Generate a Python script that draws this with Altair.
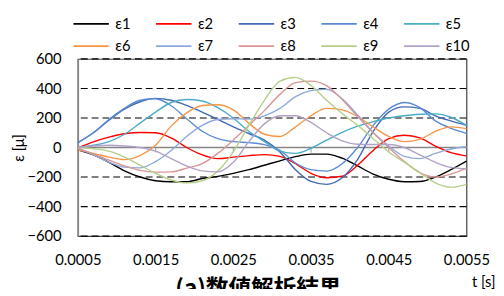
import altair as alt
import pandas as pd

t = [0.0005, 0.0007, 0.0009, 0.0011, 0.0013, 0.0015, 0.0017, 0.0019, 0.0021, 0.0023,
     0.0025, 0.0027, 0.0029, 0.0031, 0.0033, 0.0035, 0.0037, 0.0039, 0.0041, 0.0043,
     0.0045, 0.0047, 0.0049, 0.0051, 0.0053, 0.0055]

e1 = [-15, -50, -100, -158, -200, -225, -232, -232, -210, -196, -175, -150, -120, -90, -62, -45,
      -45, -72, -125, -180, -215, -232, -230, -200, -150, -92]
e2 = [-3, 38, 70, 93, 102, 100, 65, 0, -50, -75, -65, -55, -48, -60, -110, -175,
      -205, -195, -120, -20, 60, 83, 65, 10, -35, -57]
e3 = [33, 100, 185, 260, 310, 333, 320, 285, 240, 190, 140, 95, 50, -30, -150, -230,
      -250, -205, -80, 110, 240, 275, 265, 215, 180, 150]
e4 = [33, 100, 190, 265, 320, 330, 283, 195, 110, 60, 40, 33, 20, -20, -105, -150,
      -160, -110, 0, 150, 260, 305, 270, 180, 130, 96]
e5 = [0, 15, 40, 90, 165, 240, 305, 325, 315, 270, 200, 110, 40, -25, -40, -5,
      50, 103, 145, 175, 200, 215, 225, 228, 205, 150]
e6 = [-18, -40, -65, -82, -55, 15, 145, 235, 285, 290, 255, 165, 90, 75, 140, 215,
      265, 255, 210, 140, 75, 40, 55, 110, 140, 128]
e7 = [-5, -50, -100, -133, -138, -95, -20, 75, 150, 190, 195, 193, 215, 265, 345, 385,
      395, 330, 220, 100, 10, -60, -75, -40, -10, 5]
e8 = [-5, -45, -85, -125, -155, -167, -165, -140, -110, -40, 50, 150, 250, 360, 440, 450,
      420, 325, 210, 100, 0, -95, -170, -200, -180, -140]
e9 = [0, -8, -25, -65, -120, -175, -220, -240, -225, -160, -30, 150, 320, 450, 475, 420,
      320, 230, 150, 60, -30, -100, -170, -240, -270, -250]
e10 = [0, 10, 15, 10, 0, -25, -75, -125, -158, -165, -100, 40, 160, 215, 215, 170,
       100, 45, 22, 20, 20, 0, -50, -100, -135, -145]

names = ["ε1", "ε2", "ε3", "ε4", "ε5", "ε6", "ε7", "ε8", "ε9", "ε10"]
colors = ["#000000", "#FF0000", "#4169B4", "#5B8BD3", "#4BACC6",
          "#F79646", "#8EAADB", "#D99694", "#B5CF8A", "#B3A2C7"]
series = [e1, e2, e3, e4, e5, e6, e7, e8, e9, e10]

x_ticks = [0.0005, 0.0015, 0.0025, 0.0035, 0.0045, 0.0055]
y_ticks = [-600, -400, -200, 0, 200, 400, 600]
grid_vals = [-600, -400, -200, 200, 400, 600]
inner_ticks = [0.0015, 0.0025, 0.0035, 0.0045]

rows = []
for n, s in zip(names, series):
    for ti, v in zip(t, s):
        rows.append({"t": ti, "v": v, "s": n})
df = pd.DataFrame(rows)

FONT = "Lato"
FS = 15

xscale = alt.Scale(domain=[0.0005, 0.0055], nice=False, zero=False)
yscale = alt.Scale(domain=[-600, 600], nice=False)

xaxis = alt.Axis(values=x_ticks, format=".4f", title="t [s]", grid=False,
                 domain=False, ticks=False, labelPadding=17,
                 labelOverlap=False, labelFlush=False,
                 titleAnchor="end", titleAlign="right",
                 titleX=424, titleY=51, titleBaseline="alphabetic")
yaxis = alt.Axis(values=y_ticks, title="ε [μ]", grid=False, ticks=False,
                 domainColor="#868686", domainWidth=1.5, labelPadding=17,
                 labelOverlap=False, labelFlush=False, tickCount=7,
                 titleX=-60, titleY=90,
                 titleAlign="center", titleBaseline="middle", titleAngle=-90)

grid = alt.Chart(pd.DataFrame({"g": grid_vals})).mark_rule(
    color="#000000", strokeDash=[7, 4], strokeWidth=1.2
).encode(y=alt.Y("g:Q", scale=yscale, axis=yaxis))

zero = alt.Chart(pd.DataFrame({"z": [0]})).mark_rule(
    color="#868686", strokeWidth=1.5
).encode(y=alt.Y("z:Q", scale=yscale, axis=yaxis))

ticks = alt.Chart(pd.DataFrame({"x": inner_ticks, "z": [0] * len(inner_ticks)})).mark_tick(
    orient="vertical", size=5, yOffset=2.5, color="#868686", thickness=1.2
).encode(x=alt.X("x:Q", scale=xscale, axis=xaxis), y=alt.Y("z:Q", scale=yscale, axis=yaxis))

lines = alt.Chart(df).mark_line(interpolate="monotone", strokeWidth=1.4).encode(
    x=alt.X("t:Q", scale=xscale, axis=xaxis),
    y=alt.Y("v:Q", scale=yscale, axis=yaxis),
    color=alt.Color("s:N", scale=alt.Scale(domain=names, range=colors), sort=names,
                    legend=alt.Legend(title=None, orient="none", legendX=-5, legendY=-43.5,
                                      direction="horizontal", columns=5,
                                      symbolType="M-3,0H3", symbolSize=144,
                                      symbolStrokeWidth=1.8, symbolOffset=11,
                                      labelFontSize=FS,
                                      labelFont=FONT, labelColor="#000000",
                                      labelOffset=17, columnPadding=12, rowPadding=7,
                                      gridAlign="all")),
)

chart = alt.layer(grid, zero, ticks, lines).properties(
    width=395, height=180,
    autosize=alt.AutoSizeParams(type="none"),
    padding={"left": 71, "top": 49.5, "right": 30, "bottom": 51},
    title=alt.TitleParams("(a)数値解析結果", orient="bottom", anchor="middle",
                          font="Noto Sans CJK JP", fontSize=23, fontWeight="bold",
                          color="#000000", offset=-11, dx=-14),
).configure_view(stroke="#404040", strokeWidth=1.2).configure_axis(
    labelOverlap=False, labelFlush=False, labelFontSize=FS, labelFont=FONT,
    labelColor="#000000", titleFontSize=FS, titleFont=FONT, titleFontWeight="normal",
    titleColor="#000000"
)

chart.save("out.html", embed_options={"renderer": "svg", "actions": False})
